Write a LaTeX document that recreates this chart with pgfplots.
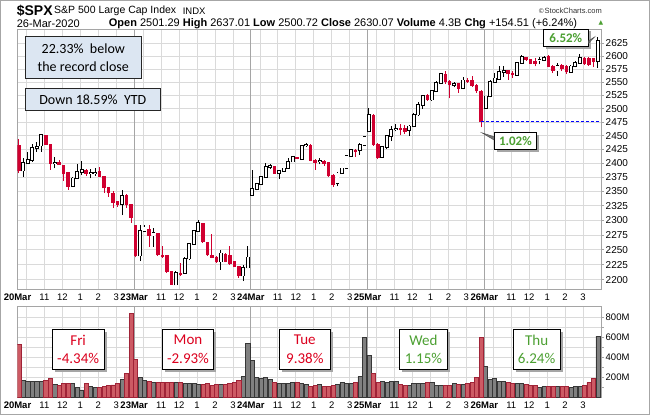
\documentclass[border=0pt]{standalone}
\usepackage{pgfplots}
\pgfplotsset{compat=1.18}
\usepackage{pgfplotstable}
\usepackage{fontspec}
\setmainfont{Liberation Sans}
\newfontfamily\calfont{Carlito}
\newfontfamily\dejavu{DejaVu Sans}
\definecolor{cred}{RGB}{208,0,48}
\definecolor{vred}{RGB}{205,90,100}
\definecolor{vredd}{RGB}{160,35,55}
\definecolor{vgray}{RGB}{128,128,128}
\definecolor{vgrayd}{RGB}{55,55,55}
\definecolor{gridc}{RGB}{218,218,218}
\definecolor{dayc}{RGB}{165,165,165}
\definecolor{boxc}{RGB}{220,230,242}
\definecolor{tgreen}{RGB}{76,160,50}
\definecolor{tred}{RGB}{220,0,30}
\definecolor{dblue}{RGB}{0,0,255}

\pgfplotstableread{
n o h l c
1 2387 2409 2376 2400
2 2400 2420 2399 2406
3 2406 2434 2403 2427
4 2427 2439 2421 2430
5 2432 2453 2421 2451
8 2400 2411 2391 2401
12 2360 2376 2359 2373
13 2374 2398 2373 2384
14 2384 2404 2379 2388
16 2382 2390 2373 2382.5
17 2383 2391 2377 2383.5
23 2328 2353 2309 2342
27 2240 2292 2231 2282
28 2282 2292 2281 2288
30 2274 2286 2255 2278
35 2192 2214 2191.9 2211
37 2211 2238 2210 2235
38 2235 2262 2233 2260
39 2260 2284 2258 2282
40 2282 2300.7 2280 2295
45 2230 2250 2217 2244
50 2207 2225 2198 2220
51 2220 2257 2219 2237
52 2344 2388 2344 2354
53 2354 2365 2352 2363
54 2363 2377 2361 2375
55 2375 2401 2374 2393
56 2393 2398 2390 2395
58 2382 2388 2372 2386
59 2386 2392 2385 2391
60 2391 2409 2390 2403
61 2403 2413 2402 2411
63 2408 2433 2406 2432
64 2432 2437 2430 2433
67 2403 2409 2398 2403.5
71 2365 2384 2359 2382
72 2382 2392 2381 2391
73 2391 2415 2390 2413
74 2413 2426 2412 2424
76 2423 2437 2415 2433
77 2433 2449.7 2432 2447.3
78 2458 2502 2456 2488
81 2411 2431 2409 2429
82 2429 2451 2426 2449
83 2449 2467 2440 2461
84 2462 2472 2458 2463
87 2460 2469 2450 2467
88 2467 2491 2465 2489
89 2489 2513 2486 2507
90 2506 2526 2500 2524
92 2517 2535 2515 2533
93 2533 2552 2531 2548
94 2548 2568 2546 2565
97 2545 2550 2540 2546
99 2538 2559 2536 2553
104 2501.3 2524 2500.7 2523
105 2523 2553 2521 2550
106 2550 2567 2548 2557
107 2556 2580 2554 2569
108 2569 2580 2560 2572
111 2564 2589 2562 2587
112 2587 2603 2585 2598
116 2592 2599 2584 2593
117 2592 2600 2590 2596
120 2572 2587 2562 2581
123 2569 2582 2567 2580
124 2580 2590 2578 2587
125 2587 2604 2586 2596
129 2590 2637 2577 2630
}\up

\pgfplotstableread{
n o h l c
0 2432 2444 2382 2386
6 2451 2452 2433 2434
7 2434 2434 2388 2400
9 2401 2405 2397 2398
10 2397 2397 2369 2382
11 2384 2384 2353 2359
15 2388 2390 2377 2381
18 2386 2393 2376 2376
19 2376 2377 2347 2356
20 2357 2358 2341 2347
21 2347 2350 2321 2331
22 2332 2333 2323 2327
24 2344 2346 2322 2327
25 2327 2328 2295.6 2305
26 2291 2291 2237 2240
29 2285 2292 2255 2274
31 2278 2279 2240 2241
32 2241 2256 2236 2238
33 2241 2241 2212 2214
34 2214 2214 2191.9 2192
36 2211 2227 2207 2208
41 2295 2296 2262 2263
42 2263 2263 2240 2241
43 2241 2276 2236 2237
44 2238 2239 2228 2230
46 2243 2244 2229 2230
47 2241 2257 2225 2226
48 2230 2231 2221 2222
49 2222 2223 2203 2207
57 2395 2396 2381 2382
62 2411 2412 2407 2408
65 2433 2434 2404 2405
66 2406 2407 2388 2401
68 2403 2405 2396 2399
69 2401 2402 2376 2377
70 2379 2380 2358 2362
75 2424 2425 2412 2421
79 2488 2490 2432 2434
80 2434 2436 2407.5 2410
85 2463 2472 2451 2460
86 2464 2470 2453 2457
91 2525 2527 2515 2517
95 2565 2571.4 2547 2551
96 2551 2553 2519 2545
98 2547 2549 2530 2538
100 2553 2558 2549 2550
101 2553 2562 2541 2543
102 2544 2546 2530 2533
103 2533 2535 2465 2475.6
109 2572 2574 2554 2565
110 2567 2571 2558 2564
113 2598 2599 2591 2593
114 2593 2595 2584 2586
115 2590 2596 2580 2586
118 2600 2602 2578 2580
119 2580 2582 2567 2572
121 2583 2585 2571 2575
122 2580 2582 2566 2569
126 2596 2598 2583 2585
127 2596 2598 2581 2583
128 2596 2597 2578 2590
}\dn

\pgfplotstableread{
n v
1 172
2 165
3 165
4 158
5 165
8 135
12 140
13 105
14 78
16 110
17 100
23 184
27 200
28 175
30 150
35 150
37 145
38 145
39 140
40 130
45 130
50 215
51 540
52 370
53 200
54 195
55 205
56 180
58 145
59 140
60 145
61 150
63 145
64 135
67 130
71 135
72 150
73 140
74 145
76 210
77 600
78 420
81 160
82 150
83 160
84 165
87 125
88 140
89 140
90 140
92 155
93 125
94 125
97 140
99 135
104 310
105 185
106 195
107 160
108 160
111 140
112 140
116 100
117 115
120 115
123 105
124 110
125 110
129 610
}\vup

\pgfplotstableread{
n v
0 530
6 170
7 195
9 120
10 140
11 140
15 140
18 100
19 110
20 125
21 128
22 145
24 243
25 840
26 380
29 160
31 150
32 150
33 150
34 155
36 150
41 130
42 140
43 125
44 130
46 135
47 140
48 155
49 170
57 150
62 150
65 110
66 125
68 110
69 110
70 120
75 155
79 245
80 150
85 130
86 125
91 155
95 120
96 125
98 130
100 140
101 150
102 200
103 600
109 150
110 140
113 130
114 125
115 125
118 110
119 110
121 115
122 115
126 125
127 150
128 190
}\vdn

\pgfplotsset{
  chart/.style={
    scale only axis, width=583.5pt, xmin=0, xmax=130,
    xtick={2,6,10,14,18,22,28,32,36,40,44,48,54,58,62,66,70,74,80,84,88,92,96,100,106,110,114,118,122,126},
    xticklabels={{},11,12,1,2,3,{},11,12,1,2,3,{},11,12,1,2,3,{},11,12,1,2,3,{},11,12,1,2,3},
    extra x ticks={0,26,52,78,104},
    extra x tick labels={\textbf{20Mar},\textbf{23Mar},\textbf{24Mar},\textbf{25Mar},\textbf{26Mar}},
    extra x tick style={major grid style={draw=dayc, line width=0.9pt}},
    xmajorgrids, ymajorgrids,
    major grid style={draw=gridc, line width=0.7pt},
    xtick style={draw=none},
    ytick pos=right, yticklabel pos=right, tick align=outside,
    ytick style={draw=dayc, line width=0.7pt}, major tick length=3pt,
    axis line style={draw=dayc, line width=0.8pt},
    x tick label style={font=\fontsize{9.5}{11}\selectfont, inner sep=1pt},
    y tick label style={font=\fontsize{10}{12}\selectfont, inner sep=1.5pt},
    /pgf/number format/assume math mode=true,
  },
  cbar/.style 2 args={mark=none, draw=none, error bars/y dir=plus, error bars/y explicit,
    error bars/error mark=none, error bars/error bar style={draw=#1, line width=#2}},
}

\begin{document}
\begin{tikzpicture}
\path[use as bounding box] (0pt,0pt) rectangle (650pt,415pt);
\fill[white] (0pt,0pt) rectangle (650pt,415pt);
\draw[gray!70, line width=1pt] (0.5pt,0.5pt) rectangle (649.5pt,414.5pt);

% header
\node[anchor=west, inner sep=0pt, font=\fontsize{14}{15}\selectfont\bfseries] at (16.6pt,404.2pt) {\$SPX};
\node[anchor=west, inner sep=0pt, font=\fontsize{10.5}{12}\selectfont] at (54pt,404.2pt) {S\&P 500 Large Cap Index};
\node[anchor=west, inner sep=0pt, font=\fontsize{9.5}{11}\selectfont] at (182.6pt,404.2pt) {INDX};
\node[anchor=east, inner sep=0pt, text=black!80] at (602pt,404.2pt) {\dejavu\fontsize{6.5}{9}\selectfont ©\rmfamily\fontsize{7.5}{10}\selectfont StockCharts.com};
\node[anchor=west, inner sep=0pt, font=\fontsize{11}{13}\selectfont] at (16.6pt,391.5pt) {26-Mar-2020};
\node[anchor=west, inner sep=0pt, font=\fontsize{11}{13}\selectfont] at (108.7pt,391.5pt) {\textbf{Open} 2501.29 \textbf{High} 2637.01 \textbf{Low} 2500.72 \textbf{Close} 2630.07 \textbf{Volume} 4.3B \textbf{Chg} +154.51 (+6.24\%)};
\node[inner sep=0pt, text=tgreen, font=\dejavu\fontsize{6}{7}\selectfont] at (601pt,392pt) {▲};

% price panel
\begin{axis}[chart,
  at={(17.5pt,125pt)}, anchor=south west, height=260pt,
  ymode=log, ymin=2183.6, ymax=2651.4,
  ytick={2200,2225,2250,2275,2300,2325,2350,2375,2400,2425,2450,2475,2500,2525,2550,2575,2600,2625},
  yticklabels={2200,2225,2250,2275,2300,2325,2350,2375,2400,2425,2450,2475,2500,2525,2550,2575,2600,2625},
]
\addplot[cbar={cred}{1pt}] table[x expr=\thisrow{n}+0.3, y=l, y error plus expr=\thisrow{h}-\thisrow{l}] {\dn};
\addplot[cbar={cred}{3.5pt}, error bars/error bar style={shorten <=-0.3pt, shorten >=-0.3pt}]
  table[x expr=\thisrow{n}+0.3, y=c, y error plus expr=\thisrow{o}-\thisrow{c}] {\dn};
\addplot[cbar={black}{1pt}] table[x expr=\thisrow{n}+0.3, y=l, y error plus expr=\thisrow{h}-\thisrow{l}] {\up};
\addplot[cbar={black}{3.9pt}, error bars/error bar style={shorten <=-0.8pt, shorten >=-0.8pt}]
  table[x expr=\thisrow{n}+0.3, y=o, y error plus expr=\thisrow{c}-\thisrow{o}] {\up};
\addplot[cbar={white}{2.1pt}]
  table[x expr=\thisrow{n}+0.3, y=o, y error plus expr=\thisrow{c}-\thisrow{o}] {\up};
\addplot[draw=dblue, mark=none, line width=1pt, dash pattern=on 3pt off 2pt] coordinates {(103.3,2475.56) (130,2475.56)};
\end{axis}

% volume panel
\begin{axis}[chart,
  at={(17.5pt,17.3pt)}, anchor=south west, height=91pt,
  ymin=0, ymax=903,
  ytick={200,400,600,800}, yticklabels={200M,400M,600M,800M},
  minor ytick={100,300,500,700}, yminorgrids, minor grid style={draw=gridc, line width=0.7pt},
  y tick label style={font=\fontsize{9.5}{11}\selectfont},
]
\addplot[ybar, bar width=4.1pt, bar shift=0pt, fill=vgray, draw=vgrayd, line width=0.6pt]
  table[x expr=\thisrow{n}+0.3, y=v] {\vup};
\addplot[ybar, bar width=4.1pt, bar shift=0pt, fill=vred, draw=vredd, line width=0.6pt]
  table[x expr=\thisrow{n}+0.3, y=v] {\vdn};
\end{axis}

% annotation boxes
\draw[fill=boxc, draw=black!85, line width=0.8pt] (25.3pt,336.7pt) rectangle (141.3pt,378.3pt);
\node[align=center, inner sep=0pt, font=\calfont\fontsize{14}{17.5}\selectfont] at (83.3pt,357.5pt) {22.33\%\ \ below\\the record close};
\draw[fill=boxc, draw=black!85, line width=0.8pt] (25.3pt,304.7pt) rectangle (160.3pt,326.7pt);
\node[inner sep=0pt, font=\calfont\fontsize{14}{16}\selectfont] at (92.8pt,315.7pt) {Down 18.59\%\ \ YTD};

% day boxes
\foreach \xa/\xb/\da/\pc/\col in {52.3/104/Fri/-4.34\%/tred, 162.7/213.3/Mon/-2.93\%/tred, 279/330.7/Tue/9.38\%/tred, 399.6/447.3/Wed/1.15\%/tgreen, 513.3/560/Thu/6.24\%/tgreen}{
  \fill[black!35] (\xa pt+2.5pt,45.7pt-2.5pt) rectangle (\xb pt+2.5pt,85.7pt-2.5pt);
  \draw[fill=white, draw=black, line width=0.8pt] (\xa pt,45.7pt) rectangle (\xb pt,85.7pt);
  \node[inner sep=0pt, text=\col, font=\calfont\fontsize{15}{17}\selectfont] at ({(\xa+\xb)/2*1pt},75pt) {\da};
  \node[inner sep=0pt, text=\col, font=\calfont\fontsize{15}{17}\selectfont] at ({(\xa+\xb)/2*1pt},56.7pt) {\pc};
}

% callouts
\fill[black!35] (545.8pt,365.8pt) rectangle (590.8pt,383.5pt);
\draw[fill=white, draw=black, line width=0.7pt] (543.3pt,368.3pt) rectangle (588.3pt,386pt);
\draw[fill=black!55, draw=black!70, line width=0.4pt] (588.3pt,374pt) -- (594.5pt,378pt) -- (588.3pt,371.5pt);
\node[inner sep=0pt, text=tgreen, font=\calfont\bfseries\fontsize{13}{15}\selectfont] at (565.8pt,377.15pt) {6.52\%};

\fill[black!35] (496.5pt,263.2pt) rectangle (539.2pt,279.8pt);
\draw[fill=white, draw=black, line width=0.7pt] (494pt,265.7pt) rectangle (536.7pt,282.3pt);
\draw[fill=black!55, draw=black!70, line width=0.4pt] (494pt,278.3pt) -- (481.7pt,282.3pt) -- (494pt,275pt);
\node[inner sep=0pt, text=tgreen, font=\calfont\bfseries\fontsize{13}{15}\selectfont] at (515.4pt,274pt) {1.02\%};
\end{tikzpicture}
\end{document}
